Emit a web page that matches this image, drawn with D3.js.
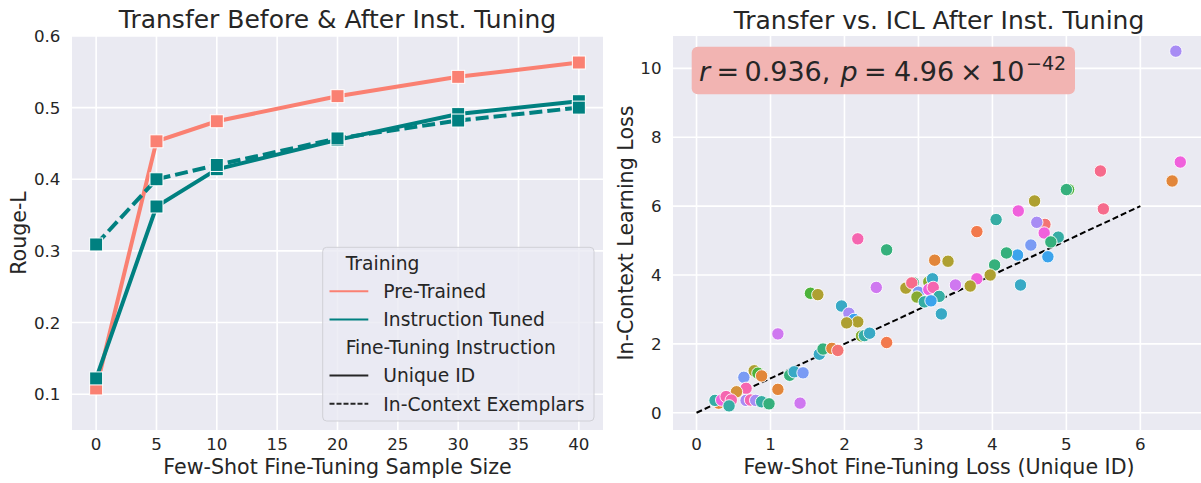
<!DOCTYPE html>
<html><head><meta charset="utf-8">
<script src="https://cdn.jsdelivr.net/npm/d3@7"></script>
<style>
html,body{margin:0;padding:0;background:#fff;}
text{font-family:"DejaVu Sans",sans-serif;fill:#262626;}
</style></head>
<body><svg id="c" width="1201" height="483"></svg>
<script>
// ---------- Left chart data ----------
const sampleSizes = [0, 5, 10, 20, 30, 40];
const preTrainedUnique = [0.108, 0.453, 0.481, 0.516, 0.543, 0.563];
const instTunedUnique  = [0.122, 0.362, 0.414, 0.455, 0.491, 0.509];
const instTunedICL     = [0.309, 0.400, 0.420, 0.457, 0.482, 0.500];
const leftXTicks = [0, 5, 10, 15, 20, 25, 30, 35, 40];
const leftYTicks = [0.1, 0.2, 0.3, 0.4, 0.5, 0.6];

// ---------- Right chart data ----------
const uniqueIdLoss = [2.93,2.18,2.57,2.43,2.83,2.91,3.00,2.98,1.54,1.64,1.10,1.96,2.06,2.13,2.18,2.03,2.23,2.27,2.34,2.57,1.66,1.71,1.83,1.91,1.26,1.32,1.44,1.40,1.10,0.64,0.78,0.83,0.88,0.67,0.54,0.67,0.73,0.80,0.88,0.98,0.30,0.25,0.34,0.40,0.47,0.44,4.57,5.50,4.35,4.05,4.71,4.60,4.70,3.79,4.89,4.79,4.52,4.75,4.34,4.19,4.03,3.97,3.79,4.38,3.40,3.22,3.50,3.70,3.14,3.19,3.14,3.20,3.28,3.08,3.17,3.31,6.48,6.54,6.43,5.46,5.03,5.00];
const iclLoss      = [3.78,5.05,4.73,3.64,3.62,3.77,3.50,3.36,3.47,3.43,2.29,3.10,2.89,2.71,2.64,2.61,2.23,2.24,2.31,2.04,1.70,1.85,1.87,1.81,1.09,1.19,1.16,0.28,0.68,1.03,1.22,1.15,1.07,0.71,0.61,0.36,0.37,0.36,0.32,0.26,0.28,0.36,0.37,0.47,0.37,0.20,6.15,5.92,5.86,5.61,5.47,5.53,5.22,5.26,5.10,4.96,4.87,4.53,4.58,4.64,4.29,4.00,3.89,3.71,4.40,4.43,3.71,3.68,3.80,3.89,3.58,3.64,3.38,3.22,3.25,2.87,10.50,7.28,6.73,7.02,6.48,6.48];
const taskHue      = ["tealgreen","pink","tealgreen","violet","olive","pinkred","cornflower","lime","green","olive","violet","cyan","lavender","blue","olive","olive","lime","teal","cyan","orangered","cyan","tealgreen","orange","salmon","tealgreen","cyan","cornflower","violet","orange","cornflower","olive","green","orange","pink","brown","lavender","pink","lavender","teal","tealgreen","orange","teal","magenta","pink","pink","teal","olive","pinkred","magenta","teal","salmon","lavender","magenta","orangered","teal","tealgreen","cornflower","blue","blue","tealgreen","tealgreen","olive","magenta","cyan","olive","orange","violet","olive","lime","cyan","magenta","pink","teal","teal","blue","cyan","lavender","magenta","orange","pinkred","green","tealgreen"];
const rightXTicks = [0, 1, 2, 3, 4, 5, 6];
const rightYTicks = [0, 2, 4, 6, 8, 10];
const fitLine = [[0, 0], [6, 6]];

const palette = {
  salmon:"#f37474", orangered:"#f2794c", orange:"#e2863a", brown:"#d4923a", olive:"#aea031",
  lime:"#86aa31", green:"#4cb23a", tealgreen:"#35b07c", teal:"#36ada4", cyan:"#38a9c5",
  blue:"#3ba3ec", cornflower:"#7a9bf4", lavender:"#a88cf4", violet:"#cf78f0",
  magenta:"#f061dc", pink:"#f566b0", pinkred:"#f66b8c"
};

const svg = d3.select("#c");
const BG = "#EAEAF2";

function drawFrame(g, x, y, xt, yt, xfmt, yfmt) {
  const [x0, x1] = x.range(), [y0, y1] = y.range();
  g.append("rect").attr("x", x0).attr("y", y1).attr("width", x1 - x0).attr("height", y0 - y1).attr("fill", BG);
  g.selectAll(".gx").data(xt).enter().append("line")
    .attr("x1", d => x(d)).attr("x2", d => x(d)).attr("y1", y0).attr("y2", y1)
    .attr("stroke", "#fff").attr("stroke-width", 1.6);
  g.selectAll(".gy").data(yt).enter().append("line")
    .attr("y1", d => y(d)).attr("y2", d => y(d)).attr("x1", x0).attr("x2", x1)
    .attr("stroke", "#fff").attr("stroke-width", 1.6);
  g.selectAll(".tx").data(xt).enter().append("text")
    .attr("x", d => x(d)).attr("y", y0 + 19.5).attr("text-anchor", "middle")
    .attr("font-size", 16.7).text(xfmt);
  g.selectAll(".ty").data(yt).enter().append("text")
    .attr("x", x0 - 11.5).attr("y", d => y(d) + 6).attr("text-anchor", "end")
    .attr("font-size", 16.7).text(yfmt);
}

// ---------- Left chart ----------
const xL = d3.scaleLinear().domain([-2, 42]).range([72, 603]);
const yL = d3.scaleLinear().domain([0.05, 0.6]).range([430, 36]);
const gL = svg.append("g");
drawFrame(gL, xL, yL, leftXTicks, leftYTicks, d => d, d => d3.format(".1f")(d));

const lineL = d3.line().x(d => xL(d[0])).y(d => yL(d[1]));
const seriesL = [
  {vals: preTrainedUnique, color: "#fa8072", dash: null},
  {vals: instTunedUnique, color: "#008080", dash: null},
  {vals: instTunedICL, color: "#008080", dash: "13,5"}
];
seriesL.forEach(s => {
  const pts = sampleSizes.map((v, i) => [v, s.vals[i]]);
  gL.append("path").attr("d", lineL(pts)).attr("fill", "none")
    .attr("stroke", s.color).attr("stroke-width", 4)
    .attr("stroke-dasharray", s.dash);
});
seriesL.forEach(s => {
  const pts = sampleSizes.map((v, i) => [v, s.vals[i]]);
  gL.selectAll(null).data(pts).enter().append("rect")
    .attr("x", d => xL(d[0]) - 6.5).attr("y", d => yL(d[1]) - 6.5)
    .attr("width", 13).attr("height", 13)
    .attr("fill", s.color).attr("stroke", "#fff").attr("stroke-width", 1);
});

gL.append("text").attr("x", 337.5).attr("y", 28).attr("text-anchor", "middle")
  .attr("font-size", 25).text("Transfer Before & After Inst. Tuning");
gL.append("text").attr("x", 337.5).attr("y", 474).attr("text-anchor", "middle")
  .attr("font-size", 20.6).text("Few-Shot Fine-Tuning Sample Size");
gL.append("text").attr("transform", "translate(26,233) rotate(-90)").attr("text-anchor", "middle")
  .attr("font-size", 20.6).text("Rouge-L");

// legend
const lg = gL.append("g");
lg.append("rect").attr("x", 322.7).attr("y", 247.3).attr("width", 271.3).attr("height", 173.7)
  .attr("rx", 4).attr("fill", BG).attr("fill-opacity", 0.8).attr("stroke", "#d0d0d6").attr("stroke-width", 1);
const legendRows = [
  {t: "Training", title: true},
  {t: "Pre-Trained", color: "#fa8072"},
  {t: "Instruction Tuned", color: "#008080"},
  {t: "Fine-Tuning Instruction", title: true},
  {t: "Unique ID", color: "#262626"},
  {t: "In-Context Exemplars", color: "#262626", dash: "5,2"}
];
legendRows.forEach((r, i) => {
  const cy = 263.2 + i * 28.1;
  if (r.title) {
    lg.append("text").attr("x", 345.7).attr("y", cy + 6.8).attr("font-size", 18.7).text(r.t);
  } else {
    lg.append("line").attr("x1", 329.5).attr("x2", 368.3).attr("y1", cy).attr("y2", cy)
      .attr("stroke", r.color).attr("stroke-width", 2).attr("stroke-dasharray", r.dash || null);
    lg.append("text").attr("x", 383.3).attr("y", cy + 6.8).attr("font-size", 18.7).text(r.t);
  }
});

// ---------- Right chart ----------
const xR = d3.scaleLinear().domain([-0.318, 6.87]).range([673, 1204.7]);
const yR = d3.scaleLinear().domain([-0.5, 10.94]).range([430, 36]);
const gR = svg.append("g");
drawFrame(gR, xR, yR, rightXTicks, rightYTicks, d => d, d => d);

gR.append("path").attr("d", d3.line().x(d => xR(d[0])).y(d => yR(d[1]))(fitLine))
  .attr("fill", "none").attr("stroke", "#000").attr("stroke-width", 2).attr("stroke-dasharray", "6,3");

gR.selectAll(null).data(uniqueIdLoss.map((v, i) => [v, iclLoss[i], taskHue[i]])).enter()
  .append("circle").attr("cx", d => xR(d[0])).attr("cy", d => yR(d[1])).attr("r", 6.2)
  .attr("fill", d => palette[d[2]]).attr("stroke", "#fff").attr("stroke-width", 0.9);

// annotation box
gR.append("rect").attr("x", 691.7).attr("y", 46.7).attr("width", 383.3).attr("height", 47.6)
  .attr("rx", 6).attr("fill", "#f2b4b2");
const ann = gR.append("text").attr("y", 80.5).attr("font-size", 27);
ann.append("tspan").attr("x", 699).attr("font-style", "italic").text("r");
ann.append("tspan").attr("x", 716.5).text("=");
ann.append("tspan").attr("x", 744.5).text("0.936,");
ann.append("tspan").attr("x", 840.5).attr("font-style", "italic").text("p");
ann.append("tspan").attr("x", 864).text("=");
ann.append("tspan").attr("x", 894).text("4.96");
ann.append("tspan").attr("x", 960).text("×");
ann.append("tspan").attr("x", 990).text("10");
ann.append("tspan").attr("x", 1026).attr("dy", -11).attr("font-size", 19).text("−42");

gR.append("text").attr("x", 939).attr("y", 29).attr("text-anchor", "middle")
  .attr("font-size", 25).text("Transfer vs. ICL After Inst. Tuning");
gR.append("text").attr("x", 939).attr("y", 474).attr("text-anchor", "middle")
  .attr("font-size", 20.6).text("Few-Shot Fine-Tuning Loss (Unique ID)");
gR.append("text").attr("transform", "translate(633,233) rotate(-90)").attr("text-anchor", "middle")
  .attr("font-size", 20.6).text("In-Context Learning Loss");
</script></body></html>
